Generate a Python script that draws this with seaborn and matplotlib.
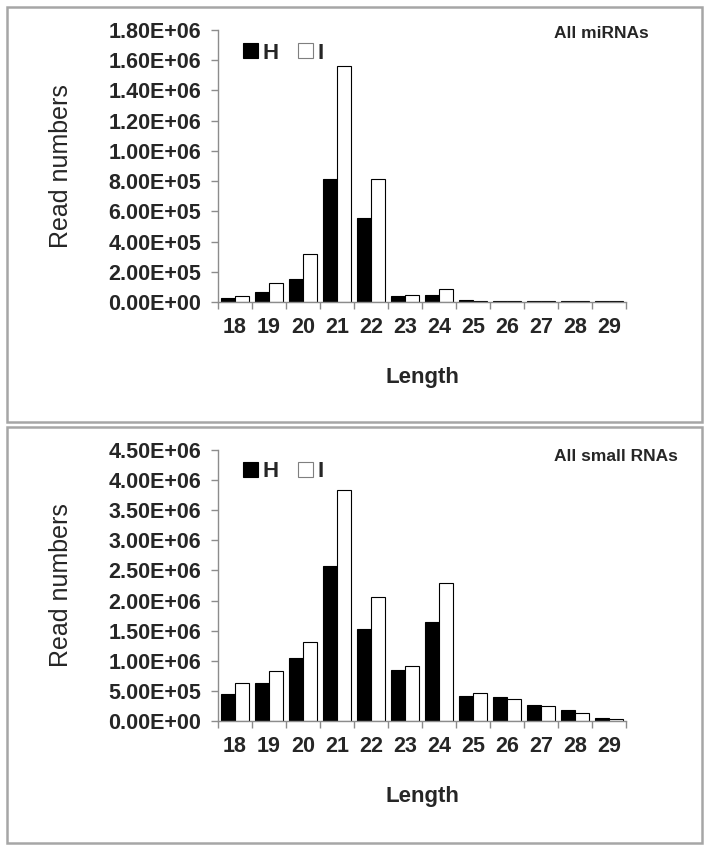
import numpy as np
import pandas as pd
import matplotlib
matplotlib.use("Agg")
import matplotlib.pyplot as plt
from matplotlib.patches import Rectangle
from matplotlib.ticker import FuncFormatter, FixedLocator
import seaborn as sns

# read lengths on the x axis
lengths = [18, 19, 20, 21, 22, 23, 24, 25, 26, 27, 28, 29]
samples = ["H", "I"]

# All miRNAs
mirnaH = [2.4e4, 6.3e4, 1.55e5, 8.15e5, 5.59e5, 4.2e4, 4.9e4, 1.2e4, 6e3, 6e3, 6e3, 6e3]
mirnaI = [4.3e4, 1.23e5, 3.18e5, 1.56e6, 8.15e5, 4.9e4, 8.5e4, 6e3, 6e3, 6e3, 6e3, 6e3]

# All small RNAs
srnaH = [4.48e5, 6.3e5, 1.045e6, 2.58e6, 1.533e6, 8.45e5, 1.638e6, 4.13e5, 3.97e5, 2.6e5, 1.83e5, 4.4e4]
srnaI = [6.3e5, 8.28e5, 1.305e6, 3.835e6, 2.064e6, 9.05e5, 2.297e6, 4.6e5, 3.65e5, 2.46e5, 1.38e5, 3.6e4]

panelTitles = ["All miRNAs", "All small RNAs"]
yMax = [1.8e6, 4.5e6]
yStep = [2e5, 5e5]

sns.set_style("white")
plt.rcParams["font.family"] = ["Liberation Sans", "DejaVu Sans"]

W, H = 709, 850
fig = plt.figure(figsize=(W / 100, H / 100), dpi=100)


def toDf(hVals, iVals):
    rows = []
    for l, h, i in zip(lengths, hVals, iVals):
        rows.append((str(l), "H", h))
        rows.append((str(l), "I", i))
    return pd.DataFrame(rows, columns=["Length", "Sample", "Reads"])


def px(x0, y0, x1, y1):
    # pixel box -> figure fraction [left, bottom, width, height]
    return [x0 / W, 1 - y1 / H, (x1 - x0) / W, (y1 - y0) / H]


gray = "#8c8c8c"
# panel frames
for (y0, y1) in [(7, 422), (427, 843)]:
    fig.patches.append(Rectangle((7 / W, 1 - y1 / H), 695 / W, (y1 - y0) / H,
                                 transform=fig.transFigure, fill=False,
                                 edgecolor="#a6a6a6", linewidth=1.8))

axBoxes = [px(218, 30, 626, 302), px(218, 450, 626, 721)]
data = [(mirnaH, mirnaI), (srnaH, srnaI)]
titlePos = [(601, 33), (616, 457)]
legendY = [0.915, 0.919]

for k in range(2):
    ax = fig.add_axes(axBoxes[k])
    df = toDf(*data[k])
    sns.barplot(data=df, x="Length", y="Reads", hue="Sample", ax=ax,
                palette={"H": "black", "I": "white"}, edgecolor="black",
                linewidth=0.8, width=0.8, errorbar=None, saturation=1)

    ax.set_xlim(-0.5, len(lengths) - 0.5)
    ax.set_ylim(0, yMax[k])
    ax.set_yticks(np.arange(0, yMax[k] + 1, yStep[k]))
    ax.yaxis.set_major_formatter(FuncFormatter(lambda v, p: f"{v:.2E}"))

    for s in ["top", "right"]:
        ax.spines[s].set_visible(False)
    for s in ["left", "bottom"]:
        ax.spines[s].set_color(gray)
        ax.spines[s].set_linewidth(1.0)

    # x ticks sit between categories, labels in the middle
    ax.xaxis.set_minor_locator(FixedLocator(np.arange(-0.5, len(lengths), 1.0)))
    ax.tick_params(axis="x", which="major", length=0, pad=11)
    ax.tick_params(axis="x", which="minor", length=5, color=gray, width=1, direction="out", bottom=True)
    ax.tick_params(axis="y", length=5, color=gray, width=1, direction="out", left=True, pad=7)
    for lab in ax.get_xticklabels() + ax.get_yticklabels():
        lab.set_fontsize(15.5)
        lab.set_fontweight("bold")

    ax.set_xlabel("Length", fontsize=16, fontweight="bold")
    ax.set_ylabel("Read numbers", fontsize=18)
    ax.xaxis.set_label_coords(0.5, -0.24)
    ax.yaxis.set_label_coords(-0.355, 0.5)

    handles, labels = ax.get_legend_handles_labels()
    for hnd in handles:
        hnd.set_edgecolor("black" if hnd.get_facecolor()[0] < 0.5 else "#7f7f7f")
    ax.legend(handles, labels, loc="center left", bbox_to_anchor=(0.062, legendY[k]),
              ncol=2, frameon=False, handlelength=0.65, handleheight=0.65,
              handletextpad=0.2, columnspacing=0.9, borderpad=0, borderaxespad=0,
              prop={"size": 16, "weight": "bold"})

    tx, ty = titlePos[k]
    fig.text(tx / W, 1 - ty / H, panelTitles[k], ha="center", va="center",
             fontsize=12.5, fontweight="bold")

fig.savefig("out.png", dpi=100)
